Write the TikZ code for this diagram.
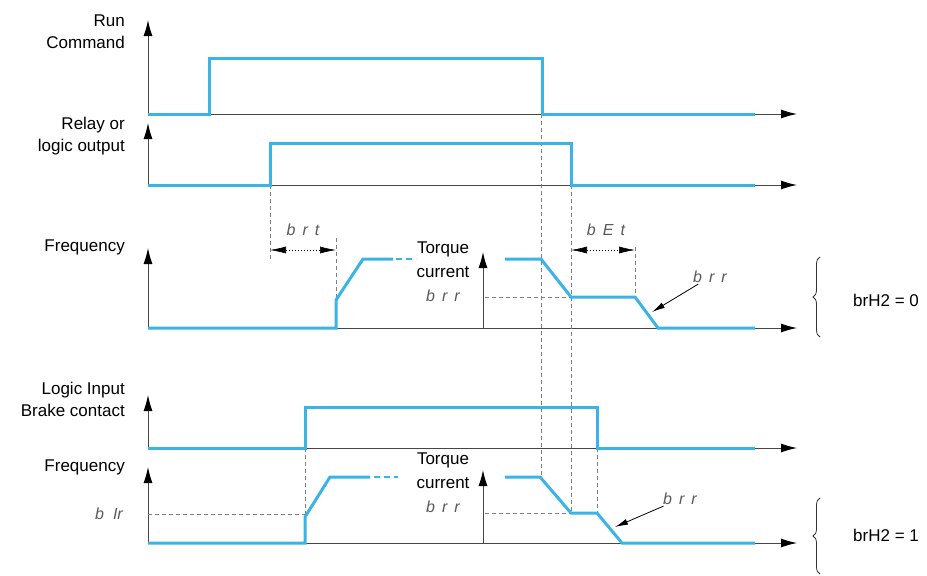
\documentclass[tikz,border=0pt]{standalone}
\usepackage{fontspec}
\setmainfont{Liberation Sans}
\usetikzlibrary{arrows.meta,decorations.pathreplacing}
\definecolor{sigblue}{RGB}{58,180,230}
\definecolor{axisgray}{RGB}{70,70,70}

\begin{document}
\begin{tikzpicture}[
  x=1pt, y=-1pt, font=\fontsize{17}{22}\selectfont,
  axis/.style={draw=axisgray, line width=1pt, -{Latex[length=16pt,width=9pt,color=black]}},
  sig/.style={draw=sigblue, line width=3pt},
  sigend/.style={draw=sigblue, line width=2.4pt, dash pattern=on 6pt off 4pt},
  guide/.style={draw=gray, line width=0.7pt, dash pattern=on 4pt off 3pt},
  span/.style={draw=black, line width=0.6pt, dash pattern=on 1.5pt off 1.5pt,
               {Latex[length=16pt,width=7pt]}-{Latex[length=16pt,width=7pt]}},
  lbl/.style={align=right, anchor=east, inner sep=0pt},
  code/.style={font=\fontsize{16}{18}\selectfont\itshape, text=black!65, inner sep=1pt},
  pointer/.style={draw=black, line width=0.8pt, -{Latex[length=13pt,width=6pt]}},
  grp/.style={draw=black!80, line width=0.8pt, decorate, decoration={brace, amplitude=7pt}}
]
\useasboundingbox (0,0) rectangle (927,576);

% axes of the five traces
\foreach \name/\base/\top in {run/114/20, rly/185/123, frqA/328/248, brk/448/395, frqB/543/467} {
  \coordinate (\name O) at (148,\base);
  \coordinate (\name Y) at (148,\top);
  \coordinate (\name X) at (797,\base);
  \draw[axis] (\name O) -- (\name Y);
  \draw[axis] (\name O) -- (\name X);
}
% torque current axes
\coordinate (tqAO) at (483,328);
\coordinate (tqAY) at (483,252);
\coordinate (tqBO) at (483,543);
\coordinate (tqBY) at (483,470);
\draw[axis] (tqAO) -- (tqAY);
\draw[axis] (tqBO) -- (tqBY);

% guide lines
\draw[guide] (270,185) -- (270,260);
\draw[guide] (336,238) -- (336,328);
\draw[guide] (541,114) -- (541,477);
\draw[guide] (571,185) -- (571,513);
\draw[guide] (635,247) -- (635,297);
\draw[guide] (485,297) -- (571,297);
\draw[guide] (305,448) -- (305,516);
\draw[guide] (148,514) -- (305,514);
\draw[guide] (597,448) -- (597,513);
\draw[guide] (485,513) -- (571,513);

% signals
\draw[sig] (148,114) -- (209,114) -- (209,58) -- (542,58) -- (542,114) -- (755,114);
\draw[sig] (148,185) -- (270,185) -- (270,143) -- (571,143) -- (571,185) -- (755,185);
\draw[sig] (148,328) -- (336,328) -- (336,300) -- (363,259) -- (393,259);
\draw[sigend] (396,259) -- (416,259);
\draw[sig] (505,259) -- (541,259) -- (571,297) -- (635,297) -- (658,328) -- (755,328);
\draw[sig] (148,448) -- (305,448) -- (305,407) -- (597,407) -- (597,448) -- (755,448);
\draw[sig] (148,543) -- (305,543) -- (305,517) -- (330,477) -- (370,477);
\draw[sigend] (374,477) -- (398,477);
\draw[sig] (505,477) -- (540,477) -- (571,513) -- (597,513) -- (622,543) -- (755,543);

% trace labels
\node[lbl] (runlbl) at (125,32) {Run\\Command};
\node[lbl] (rlylbl) at (125,136) {Relay or\\logic output};
\node[lbl] (frqAlbl) at (125,247) {Frequency};
\node[lbl] (brklbl) at (125,399) {Logic Input\\Brake contact};
\node[lbl] (frqBlbl) at (125,467) {Frequency};
\node[code, anchor=east] (bir) at (124,514) {b\hspace{9pt}Ir};

% torque current labels
\node[align=center, inner sep=0pt, font=\fontsize{17}{24}\selectfont] (tqAlbl) at (443,260) {Torque\\current};
\node[code] (brrA) at (443,296) {b\hspace{7pt}r\hspace{7pt}r};
\node[align=center, inner sep=0pt, font=\fontsize{17}{24}\selectfont] (tqBlbl) at (443,471) {Torque\\current};
\node[code] (brrB) at (443,507) {b\hspace{7pt}r\hspace{7pt}r};

% time spans
\coordinate (brtL) at (270,250);
\coordinate (brtR) at (336,250);
\draw[span] (brtL) -- (brtR);
\node[code] (brt) at (303,230) {b\hspace{7pt}r\hspace{7pt}t};
\coordinate (betL) at (571,250);
\coordinate (betR) at (635,250);
\draw[span] (betL) -- (betR);
\node[code] (bet) at (606,230) {b\hspace{7pt}E\hspace{7pt}t};

% ramp pointers
\node[code] (rampA) at (710,277) {b\hspace{7pt}r\hspace{7pt}r};
\coordinate (rampAtip) at (652,312);
\draw[pointer] (rampA) -- (rampAtip);
\node[code] (rampB) at (680,499) {b\hspace{7pt}r\hspace{7pt}r};
\coordinate (rampBtip) at (615,527);
\draw[pointer] (rampB) -- (rampBtip);

% groups
\coordinate (grpAt) at (820,257);
\coordinate (grpAb) at (820,337);
\draw[grp] (grpAb) -- (grpAt);
\node[anchor=west, inner sep=0pt] (h0) at (853,300) {brH2 = 0};
\coordinate (grpBt) at (820,498);
\coordinate (grpBb) at (820,574);
\draw[grp] (grpBb) -- (grpBt);
\node[anchor=west, inner sep=0pt] (h1) at (853,535) {brH2 = 1};
\end{tikzpicture}
\end{document}
